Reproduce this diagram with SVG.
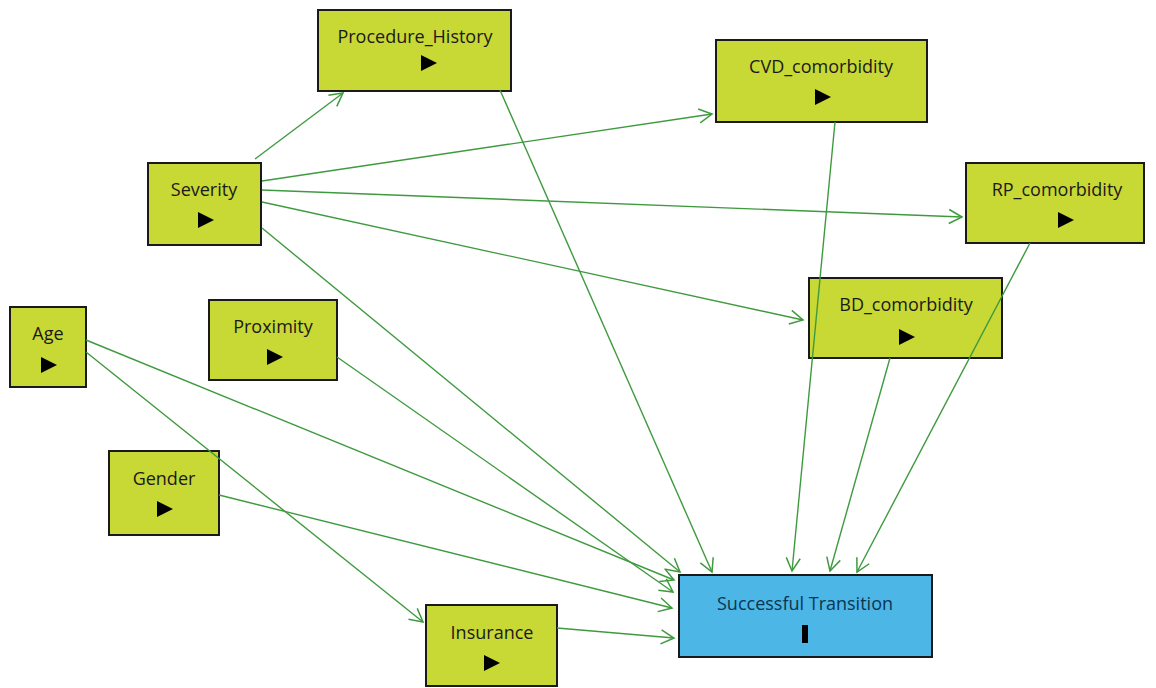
<svg xmlns="http://www.w3.org/2000/svg" width="1156" height="688" viewBox="0 0 1156 688">
<defs>
<style>
.n rect{fill:#c8d835;stroke:#1a1a1a;stroke-width:2}
.n.t rect{fill:#4cb6e6}
.n text{font-family:"Open Sans","DejaVu Sans",sans-serif;font-size:18px;fill:#1a1a1a;text-anchor:middle}
.n.t text{fill:#0d3550}
.tri{fill:#000}
.e line{stroke:#3f9a3f;stroke-width:1.4;fill:none;marker-end:url(#ah)}
</style>
<marker id="ah" markerUnits="userSpaceOnUse" markerWidth="18" markerHeight="18" refX="14" refY="8" orient="auto">
<path d="M1,1 L14,8 L1,15" fill="none" stroke="#3f9a3f" stroke-width="1.5"/>
</marker>
</defs>
<rect width="1156" height="688" fill="#fff"/>
<g id="n-proc" class="n"><rect x="318" y="10" width="193" height="81"/><text x="415" y="43">Procedure_History</text><polygon class="tri" points="421,55 421,71 437,63"/></g>
<g id="n-cvd" class="n"><rect x="716" y="40" width="211" height="82"/><text x="821" y="73">CVD_comorbidity</text><polygon class="tri" points="815,89 815,105 831,97"/></g>
<g id="n-sev" class="n"><rect x="148" y="163" width="113" height="82"/><text x="204" y="196">Severity</text><polygon class="tri" points="198,212 198,228 214,220"/></g>
<g id="n-rp" class="n"><rect x="966" y="163" width="178" height="80"/><text x="1057" y="196">RP_comorbidity</text><polygon class="tri" points="1058,212 1058,228 1074,220"/></g>
<g id="n-age" class="n"><rect x="10" y="307" width="76" height="80"/><text x="48" y="340">Age</text><polygon class="tri" points="41,357 41,373 57,365"/></g>
<g id="n-prox" class="n"><rect x="209" y="300" width="128" height="80"/><text x="273" y="333">Proximity</text><polygon class="tri" points="267,349 267,365 283,357"/></g>
<g id="n-bd" class="n"><rect x="809" y="278" width="193" height="80"/><text x="906" y="311">BD_comorbidity</text><polygon class="tri" points="899,329 899,345 915,337"/></g>
<g id="n-gen" class="n"><rect x="109" y="451" width="110" height="84"/><text x="164" y="485">Gender</text><polygon class="tri" points="157,501 157,517 173,509"/></g>
<g id="n-ins" class="n"><rect x="426" y="605" width="131" height="81"/><text x="492" y="639">Insurance</text><polygon class="tri" points="484,655 484,671 500,663"/></g>
<g id="n-st" class="n t"><rect x="679" y="575" width="253" height="82"/><text x="805" y="610">Successful Transition</text><rect class="tri" x="802" y="625" width="6" height="18" style="fill:#000;stroke:none"/></g>
<g id="edges" class="e">
<line x1="255" y1="159" x2="343" y2="93"/>
<line x1="262" y1="181" x2="712" y2="114"/>
<line x1="262" y1="190" x2="962" y2="217"/>
<line x1="262" y1="202" x2="803" y2="320"/>
<line x1="262" y1="228" x2="680" y2="572"/>
<line x1="500" y1="90" x2="712" y2="572"/>
<line x1="835" y1="122" x2="792" y2="571"/>
<line x1="890" y1="358" x2="830" y2="571"/>
<line x1="1030" y1="243" x2="857" y2="572"/>
<line x1="86" y1="340" x2="674" y2="580"/>
<line x1="337" y1="357" x2="673" y2="592"/>
<line x1="86" y1="352" x2="423" y2="622"/>
<line x1="219" y1="495" x2="672" y2="608"/>
<line x1="557" y1="628" x2="674" y2="638"/>
</g>
</svg>
